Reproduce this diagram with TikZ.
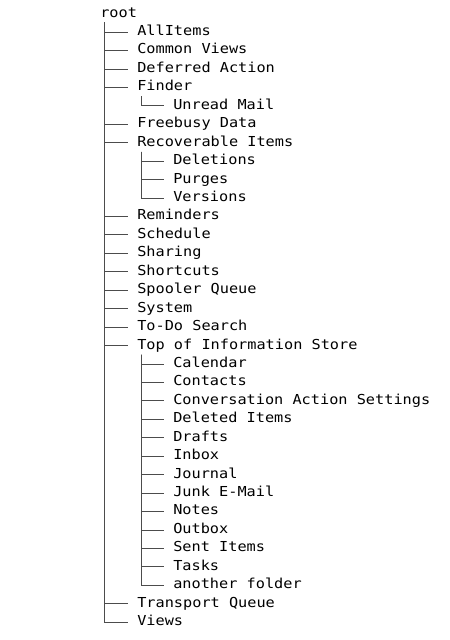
\documentclass[tikz,border=0pt]{standalone}
\usepackage{fontspec}
\setmonofont[FakeStretch=1.11]{DejaVu Sans Mono}
\begin{document}
\begin{tikzpicture}[x=0.75pt,y=-0.75pt,%
% common options for the folder names:
item/.style = {anchor=base west, inner ysep=0, inner xsep=6.75pt,
            text height=7.5pt, text depth=2.25pt,
            font=\ttfamily\fontsize{10.3pt}{12pt}\selectfont},
% common options for the tree lines:
branch/.style = {draw=black!70, line width=0.6pt}]
\useasboundingbox (0,0) rectangle (450,640);
\node[item,inner xsep=0] (R) at (100,17) {root};
\node[item] (A1) at (128,35.5) {AllItems};
\node[item] (A2) at (128,53.9) {Common Views};
\node[item] (A3) at (128,72.4) {Deferred Action};
\node[item] (A4) at (128,90.8) {Finder};
\node[item] (A5) at (164,109.3) {Unread Mail};
\node[item] (A6) at (128,127.7) {Freebusy Data};
\node[item] (A7) at (128,146.1) {Recoverable Items};
\node[item] (A8) at (164,164.6) {Deletions};
\node[item] (A9) at (164,183.0) {Purges};
\node[item] (A10) at (164,201.5) {Versions};
\node[item] (A11) at (128,219.9) {Reminders};
\node[item] (A12) at (128,238.3) {Schedule};
\node[item] (A13) at (128,256.8) {Sharing};
\node[item] (A14) at (128,275.2) {Shortcuts};
\node[item] (A15) at (128,293.7) {Spooler Queue};
\node[item] (A16) at (128,312.1) {System};
\node[item] (A17) at (128,330.5) {To-Do Search};
\node[item] (A18) at (128,349.0) {Top of Information Store};
\node[item] (A19) at (164,367.4) {Calendar};
\node[item] (A20) at (164,385.9) {Contacts};
\node[item] (A21) at (164,404.3) {Conversation Action Settings};
\node[item] (A22) at (164,422.7) {Deleted Items};
\node[item] (A23) at (164,441.2) {Drafts};
\node[item] (A24) at (164,459.6) {Inbox};
\node[item] (A25) at (164,478.1) {Journal};
\node[item] (A26) at (164,496.5) {Junk E-Mail};
\node[item] (A27) at (164,514.9) {Notes};
\node[item] (A28) at (164,533.4) {Outbox};
\node[item] (A29) at (164,551.8) {Sent Items};
\node[item] (A30) at (164,570.3) {Tasks};
\node[item] (A31) at (164,588.7) {another folder};
\node[item] (A32) at (128,607.1) {Transport Queue};
\node[item] (A33) at (128,625.6) {Views};
% tops of the vertical lines
\coordinate (T0) at (104.5,22);
\coordinate (T4) at (141.7,96.3);
\coordinate (T7) at (141.7,151.6);
\coordinate (T18) at (141.7,354.5);
\draw[branch] (T0) |- (A1.west);
\draw[branch] (T0) |- (A2.west);
\draw[branch] (T0) |- (A3.west);
\draw[branch] (T0) |- (A4.west);
\draw[branch] (T4) |- (A5.west);
\draw[branch] (T0) |- (A6.west);
\draw[branch] (T0) |- (A7.west);
\draw[branch] (T7) |- (A8.west);
\draw[branch] (T7) |- (A9.west);
\draw[branch] (T7) |- (A10.west);
\draw[branch] (T0) |- (A11.west);
\draw[branch] (T0) |- (A12.west);
\draw[branch] (T0) |- (A13.west);
\draw[branch] (T0) |- (A14.west);
\draw[branch] (T0) |- (A15.west);
\draw[branch] (T0) |- (A16.west);
\draw[branch] (T0) |- (A17.west);
\draw[branch] (T0) |- (A18.west);
\draw[branch] (T18) |- (A19.west);
\draw[branch] (T18) |- (A20.west);
\draw[branch] (T18) |- (A21.west);
\draw[branch] (T18) |- (A22.west);
\draw[branch] (T18) |- (A23.west);
\draw[branch] (T18) |- (A24.west);
\draw[branch] (T18) |- (A25.west);
\draw[branch] (T18) |- (A26.west);
\draw[branch] (T18) |- (A27.west);
\draw[branch] (T18) |- (A28.west);
\draw[branch] (T18) |- (A29.west);
\draw[branch] (T18) |- (A30.west);
\draw[branch] (T18) |- (A31.west);
\draw[branch] (T0) |- (A32.west);
\draw[branch] (T0) |- (A33.west);
\end{tikzpicture}
\end{document}
